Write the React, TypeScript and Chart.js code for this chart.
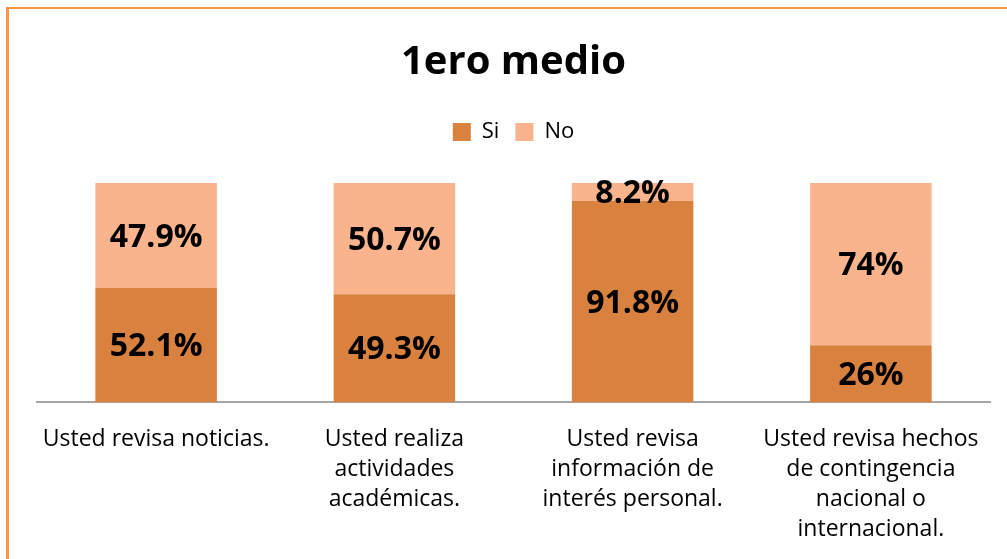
import React, { useEffect, useRef } from "react";
import { Chart, registerables } from "chart.js";

Chart.register(...registerables);

const categories: string[][] = [
  ["Usted revisa noticias."],
  ["Usted realiza", "actividades", "académicas."],
  ["Usted revisa", "información de", "interés personal."],
  ["Usted revisa hechos", "de contingencia", "nacional o", "internacional."],
];
const siValues = [52.1, 49.3, 91.8, 26];
const noValues = [47.9, 50.7, 8.2, 74];
const siLabels = ["52.1%", "49.3%", "91.8%", "26%"];
const noLabels = ["47.9%", "50.7%", "8.2%", "74%"];

const FONT = "'Open Sans', sans-serif";

const labelPlugin = {
  id: "barLabels",
  afterDatasetsDraw(chart: any) {
    const ctx = chart.ctx;
    ctx.save();
    ctx.font = `bold 32px ${FONT}`;
    ctx.fillStyle = "#000";
    ctx.textAlign = "center";
    ctx.textBaseline = "middle";
    chart.data.datasets.forEach((ds: any, di: number) => {
      const meta = chart.getDatasetMeta(di);
      const labels = di === 0 ? siLabels : noLabels;
      meta.data.forEach((bar: any, i: number) => {
        const y = (bar.y + bar.base) / 2;
        ctx.fillText(labels[i], bar.x, y + 2);
      });
    });
    ctx.restore();
  },
};

const legendSpacer = {
  id: "legendSpacer",
  beforeInit(chart: any) {
    const orig = chart.legend.fit;
    chart.legend.fit = function () {
      orig.bind(chart.legend)();
      this.height += 30;
    };
  },
};

export default function App() {
  const ref = useRef<HTMLCanvasElement>(null);
  useEffect(() => {
    if (!ref.current) return;
    const chart = new Chart(ref.current, {
      type: "bar",
      data: {
        labels: categories,
        datasets: [
          { label: "Si", data: siValues, backgroundColor: "#D9823F", barPercentage: 0.51, categoryPercentage: 1 },
          { label: "No", data: noValues, backgroundColor: "#F9B48E", barPercentage: 0.51, categoryPercentage: 1 },
        ],
      },
      options: {
        responsive: false,
        animation: false,
        layout: { padding: { left: 37, right: 17, top: 39, bottom: 1 } },
        plugins: {
          title: {
            display: true,
            text: "1ero medio",
            color: "#000",
            font: { family: FONT, size: 40, weight: "bold" },
            padding: { top: 0, bottom: 18 },
          },
          legend: {
            display: true,
            position: "top",
            labels: {
              color: "#000",
              font: { family: FONT, size: 22 },
              boxWidth: 18,
              boxHeight: 18,
              padding: 16,
            },
          },
          tooltip: { enabled: false },
        },
        scales: {
          x: {
            stacked: true,
            grid: { display: false },
            border: { display: true, color: "#A6A6A6", width: 2 },
            ticks: {
              color: "#000",
              font: { family: FONT, size: 23, lineHeight: 1.3 },
              maxRotation: 0,
              autoSkip: false,
              padding: 14,
            },
          },
          y: {
            stacked: true,
            display: false,
            min: 0,
            max: 100,
          },
        },
      },
      plugins: [labelPlugin, legendSpacer],
    });
    return () => chart.destroy();
  }, []);
  return (
    <div style={{ position: "fixed", left: 0, top: 0, width: 1007, height: 559, background: "#fff", overflow: "hidden" }}>
      <canvas ref={ref} width={1007} height={559} style={{ position: "absolute", left: 0, top: 0 }} />
      <div
        style={{
          position: "absolute",
          left: 6,
          top: 7,
          width: 1001,
          height: 552,
          borderLeft: "3px solid #F79646",
          borderTop: "2px solid #F79646",
          boxSizing: "border-box",
          pointerEvents: "none",
        }}
      />
    </div>
  );
}
